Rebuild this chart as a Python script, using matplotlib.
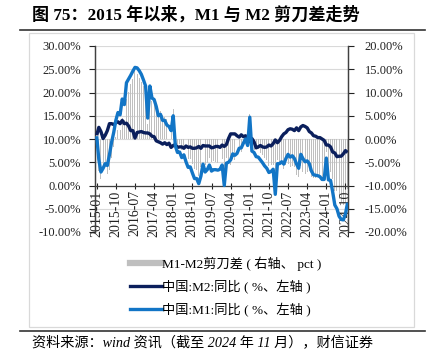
import numpy as np
import matplotlib
matplotlib.use("Agg")
import matplotlib.pyplot as plt
from matplotlib.lines import Line2D
from matplotlib.patches import Rectangle

plt.rcParams['font.family'] = ['Liberation Serif', 'Noto Sans CJK SC']

# monthly, 2015-01 .. 2024-11
months = [f"{y}-{m:02d}" for y in range(2015, 2025) for m in range(1, 13)][:119]

m2 = [10.8, 12.5, 11.6, 10.1, 10.8, 11.8, 13.3, 13.3, 13.1, 13.5, 13.7, 13.3,
      14.0, 13.3, 13.4, 12.8, 11.8, 11.8, 10.2, 11.4, 11.5, 11.6, 11.4, 11.3,
      11.3, 11.1, 10.6, 10.5, 9.6, 9.4, 9.2, 8.9, 9.2, 8.8, 9.1, 8.2,
      8.6, 8.8, 8.2, 8.3, 8.3, 8.0, 8.5, 8.2, 8.3, 8.0, 8.0, 8.1,
      8.4, 8.0, 8.6, 8.5, 8.5, 8.5, 8.1, 8.2, 8.4, 8.4, 8.2, 8.7,
      8.4, 8.8, 10.1, 11.1, 11.1, 11.1, 10.7, 10.4, 10.9, 10.5, 10.7, 10.1,
      9.4, 10.1, 9.4, 8.1, 8.3, 8.6, 8.3, 8.2, 8.3, 8.7, 8.5, 9.0,
      9.8, 9.2, 9.7, 10.5, 11.1, 11.4, 12.0, 12.2, 12.1, 11.8, 12.4, 11.8,
      12.6, 12.9, 12.7, 12.4, 11.6, 11.3, 10.7, 10.6, 10.3, 10.3, 10.0, 9.7,
      8.7, 8.7, 8.3, 7.2, 7.0, 6.2, 6.3, 6.3, 6.8, 7.5, 7.1]

m1 = [10.6, 5.6, 2.9, 3.7, 4.7, 4.3, 6.6, 9.3, 11.4, 14.0, 15.7, 15.2,
      18.6, 17.4, 22.1, 22.9, 23.7, 24.6, 25.4, 25.3, 24.7, 23.9, 22.7, 21.4,
      14.5, 21.4, 18.8, 18.5, 17.0, 15.0, 15.3, 14.0, 14.0, 13.0, 12.7, 11.8,
      15.0, 8.5, 7.1, 7.2, 6.0, 6.6, 5.1, 3.9, 4.0, 2.7, 1.5, 1.5,
      0.4, 2.0, 4.6, 2.9, 3.4, 4.4, 3.1, 3.4, 3.4, 3.3, 3.5, 4.4,
      0.0, 4.8, 5.0, 5.5, 6.8, 6.5, 6.9, 8.0, 8.1, 9.1, 10.0, 8.6,
      14.7, 7.4, 7.1, 6.2, 6.1, 5.5, 4.9, 4.2, 3.7, 2.8, 3.0, 3.5,
      -1.9, 4.7, 4.7, 5.1, 4.6, 5.8, 6.7, 6.1, 6.4, 5.8, 4.6, 3.7,
      6.7, 5.8, 5.1, 5.3, 4.7, 3.1, 2.3, 2.2, 2.1, 1.9, 1.3, 1.3,
      5.9, 1.2, 1.1, -1.4, -4.2, -5.0, -6.6, -7.3, -7.4, -6.1, -3.7]

gap = np.array(m1) - np.array(m2)

W, H = 433, 363
fig = plt.figure(figsize=(W / 100, H / 100), dpi=100)

ax = fig.add_axes([95 / W, 1 - 232 / H, (348 - 95) / W, (232 - 46) / H])
ax2 = ax.twinx()
ax.set_zorder(ax2.get_zorder() + 1)
ax.patch.set_visible(False)

x = np.arange(len(months))
ax2.bar(x, gap, width=0.45, color='#BFBFBF', zorder=2)
ax.plot(x, m2, color='#0B1F5C', lw=2.4, solid_capstyle='butt', zorder=3)
ax.plot(x, m1, color='#1275C6', lw=2.4, solid_capstyle='butt', zorder=4)

ax.set_xlim(-0.8, 118.2)
ax.set_ylim(-10, 30)
ax2.set_ylim(-20, 20)

lt = np.arange(-10, 31, 5)
ax.set_yticks(lt)
ax.set_yticklabels([f"{v:.2f}%" for v in lt])
rt = np.arange(-20, 21, 5)
ax2.set_yticks(rt)
ax2.set_yticklabels([f"{v:.2f}%" for v in rt])
ax2.yaxis.grid(True, color='#D9D9D9', lw=0.8)
ax2.set_axisbelow(True)

ticks = x[::9]
ax.set_xticks(ticks)
ax.set_xticklabels([months[i] for i in ticks], fontsize=9)
ax.spines['bottom'].set_position(('data', 0))
ax.tick_params(axis='x', direction='inout', length=5, width=0.8, pad=1,
               colors='#222222', labelrotation=90)
ax.tick_params(axis='y', direction='out', length=4, width=0.8, labelsize=9,
               pad=6, colors='#222222')
ax2.tick_params(axis='y', direction='out', length=4, width=0.8, labelsize=9,
                pad=8, colors='#222222')
for a in (ax, ax2):
    a.spines['top'].set_visible(False)
    for s in ('left', 'right', 'bottom'):
        a.spines[s].set_color('#404040')
        a.spines[s].set_linewidth(0.9)
ax2.spines['bottom'].set_visible(False)

handles = [Line2D([], [], color='#BFBFBF', lw=4.5),
           Line2D([], [], color='#0B1F5C', lw=2.4),
           Line2D([], [], color='#1275C6', lw=2.4)]
labels = ['M1-M2剪刀差 ( 右轴、 pct )', '中国:M2:同比 ( %、左轴 )', '中国:M1:同比 ( %、左轴 )']
fig.legend(handles, labels, loc='upper center', bbox_to_anchor=(226 / W, 1 - 250 / H),
           frameon=False, fontsize=9.5, handlelength=2.4, handletextpad=0.0,
           labelspacing=0.68, borderpad=0)

# page decorations
fig.add_artist(Rectangle((29 / W, 1 - 327 / H), (414 - 29) / W, (327 - 33) / H,
                         transform=fig.transFigure, fill=False,
                         edgecolor='#D9D9D9', lw=0.9))
fig.add_artist(Line2D([20 / W, 425 / W], [1 - 30 / H, 1 - 30 / H],
                      transform=fig.transFigure, color='#333333', lw=1.2))
fig.add_artist(Line2D([20 / W, 425 / W], [1 - 331 / H, 1 - 331 / H],
                      transform=fig.transFigure, color='#333333', lw=1.2))

fig.text(32 / W, 1 - 15 / H, "图 75：2015 年以来，M1 与 M2 剪刀差走势",
         fontsize=12.3, fontweight='bold', va='center', ha='left')
fig.text(32 / W, 1 - 343 / H, "资料来源：wind 资讯（截至 2024 年 11 月），财信证券",
         fontsize=10.2, style='italic', va='center', ha='left')

fig.savefig("out.png", dpi=100)
